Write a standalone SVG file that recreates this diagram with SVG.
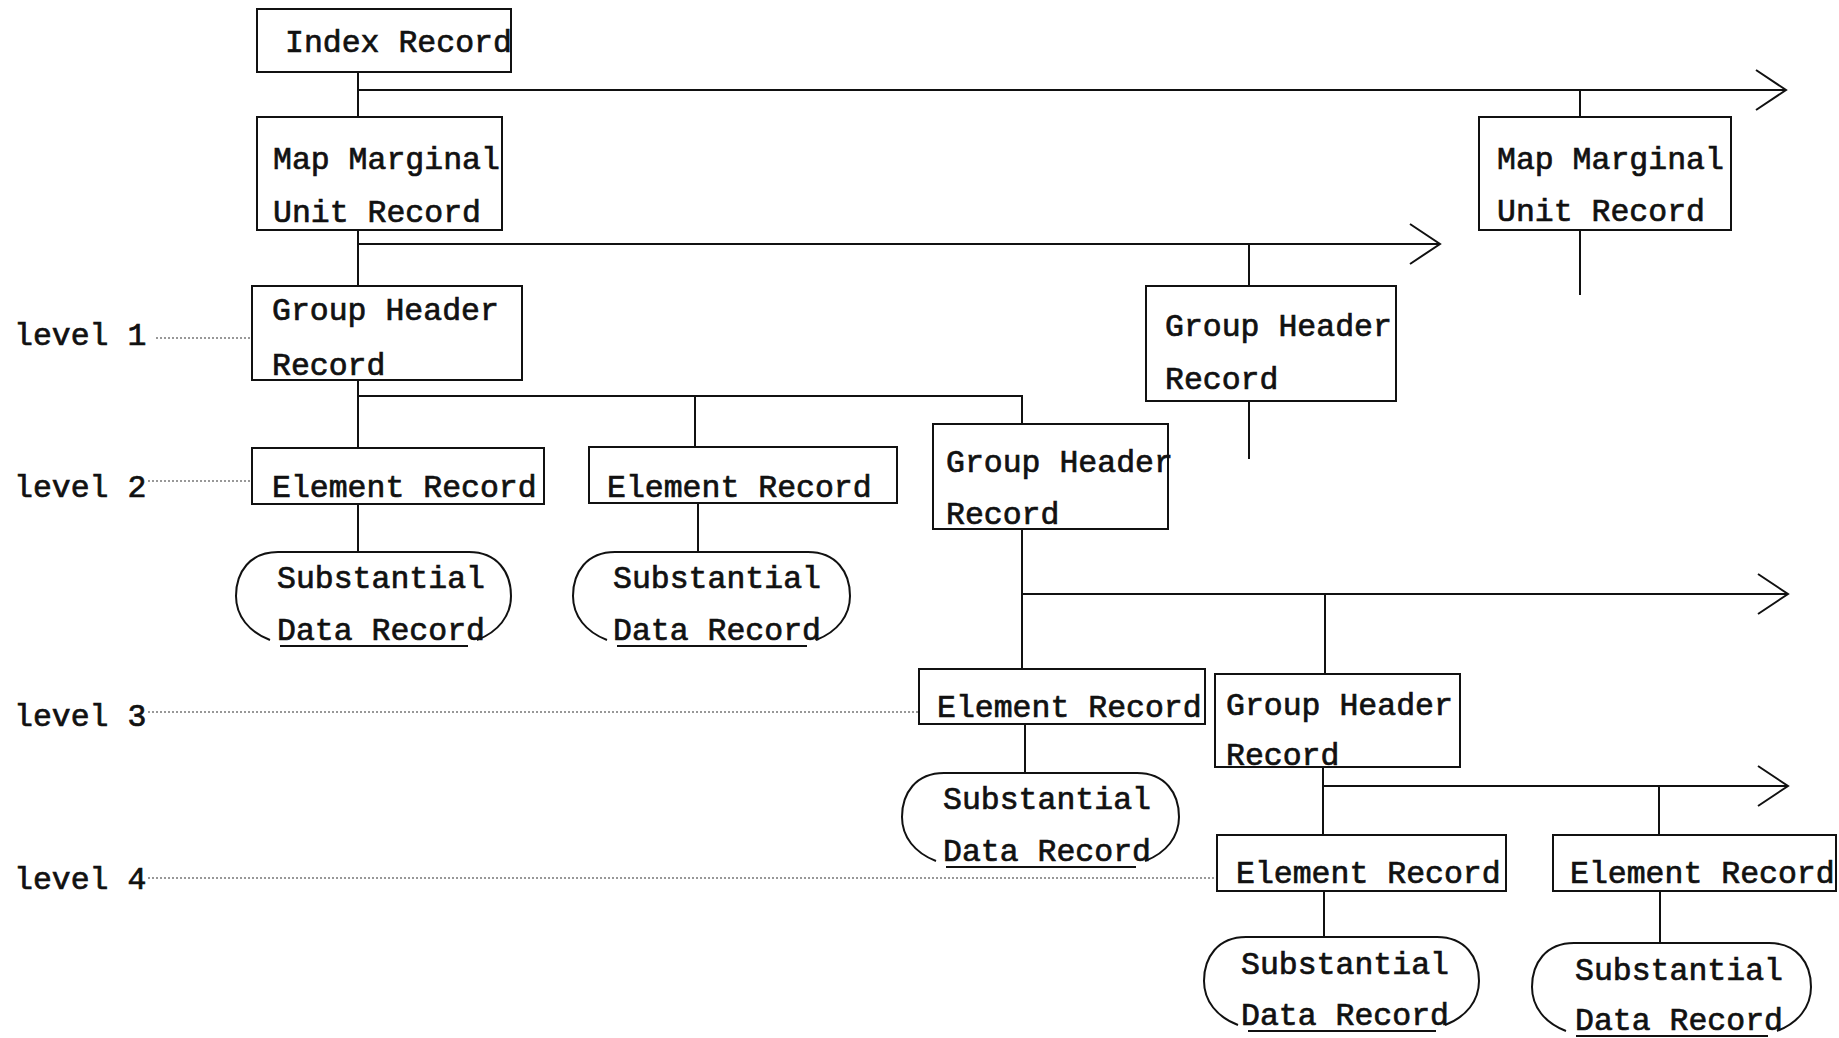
<svg xmlns="http://www.w3.org/2000/svg" width="1839" height="1038" viewBox="0 0 1839 1038">
<defs>
<style>
.box{fill:none;stroke:#111;stroke-width:2}
.sdr{fill:none;stroke:#111;stroke-width:2}
.t{font-family:"Liberation Mono","DejaVu Sans Mono",monospace;font-size:31.5px;fill:#111;stroke:#111;stroke-width:0.7}
.c{fill:none;stroke:#111;stroke-width:2}
.d{fill:none;stroke:#333;stroke-width:1.2;stroke-dasharray:2 2}
</style>
<marker id="chev" markerUnits="userSpaceOnUse" markerWidth="40" markerHeight="46" refX="32" refY="22" orient="auto" viewBox="0 0 40 46">
<path d="M2,2 L32,22 L2,42" fill="none" stroke="#111" stroke-width="2"/>
</marker>
</defs>
<rect width="1839" height="1038" fill="#fff"/>

<g id="connectors">
<path class="c" d="M358,72 V117"/>
<path class="c" d="M358,90 H1786" marker-end="url(#chev)"/>
<path class="c" d="M1580,90 V117"/>
<path class="c" d="M1580,230 V295"/>
<path class="c" d="M358,230 V286"/>
<path class="c" d="M358,244 H1440" marker-end="url(#chev)"/>
<path class="c" d="M1249,244 V286"/>
<path class="c" d="M1249,401 V459"/>
<path class="c" d="M358,380 V448"/>
<path class="c" d="M358,396 H1022 V424"/>
<path class="c" d="M695,396 V447"/>
<path class="c" d="M358,504 V552"/>
<path class="c" d="M698,503 V552"/>
<path class="c" d="M1022,529 V669"/>
<path class="c" d="M1022,594 H1788" marker-end="url(#chev)"/>
<path class="c" d="M1325,594 V674"/>
<path class="c" d="M1025,724 V773"/>
<path class="c" d="M1323,767 V835"/>
<path class="c" d="M1323,786 H1788" marker-end="url(#chev)"/>
<path class="c" d="M1659,786 V835"/>
<path class="c" d="M1324,891 V937"/>
<path class="c" d="M1660,891 V943"/>
<path class="d" d="M156,338 H252"/>
<path class="d" d="M148,481 H252"/>
<path class="d" d="M148,712 H919"/>
<path class="d" d="M148,878 H1217"/>
</g>

<g id="levels">
<text class="t" x="14" y="345">level 1</text>
<text class="t" x="14" y="497">level 2</text>
<text class="t" x="14" y="726">level 3</text>
<text class="t" x="14" y="889">level 4</text>
</g>

<g id="index-record">
<rect class="box" x="257" y="9" width="254" height="63"/>
<text class="t" x="285" y="52">Index Record</text>
</g>

<g id="map-marginal-1">
<rect class="box" x="257" y="117" width="245" height="113"/>
<text class="t" x="273" y="169">Map Marginal</text>
<text class="t" x="273" y="222">Unit Record</text>
</g>

<g id="map-marginal-2">
<rect class="box" x="1479" y="117" width="252" height="113"/>
<text class="t" x="1497" y="169">Map Marginal</text>
<text class="t" x="1497" y="221">Unit Record</text>
</g>

<g id="group-header-1">
<rect class="box" x="252" y="286" width="270" height="94"/>
<text class="t" x="272" y="320">Group Header</text>
<text class="t" x="272" y="375">Record</text>
</g>

<g id="group-header-2">
<rect class="box" x="1146" y="286" width="250" height="115"/>
<text class="t" x="1165" y="336">Group Header</text>
<text class="t" x="1165" y="389">Record</text>
</g>

<g id="element-2a">
<rect class="box" x="252" y="448" width="292" height="56"/>
<text class="t" x="272" y="497">Element Record</text>
</g>

<g id="element-2b">
<rect class="box" x="589" y="447" width="308" height="56"/>
<text class="t" x="607" y="497">Element Record</text>
</g>

<g id="group-header-2c">
<rect class="box" x="933" y="424" width="235" height="105"/>
<text class="t" x="946" y="472">Group Header</text>
<text class="t" x="946" y="524">Record</text>
</g>

<g id="data-2a">
<path class="sdr" d="M278,552 H469 C497,552 511,572 511,596 C511,616 498,632 477,640 M278,552 C250,552 236,572 236,596 C236,616 249,632 270,640 M280,646 H468"/>
<text class="t" x="277" y="588">Substantial</text>
<text class="t" x="277" y="640">Data Record</text>
</g>

<g id="data-2b">
<path class="sdr" d="M615,552 H808 C836,552 850,572 850,596 C850,616 837,632 816,640 M615,552 C587,552 573,572 573,596 C573,616 586,632 607,640 M617,646 H807"/>
<text class="t" x="613" y="588">Substantial</text>
<text class="t" x="613" y="640">Data Record</text>
</g>

<g id="element-3">
<rect class="box" x="919" y="669" width="286" height="55"/>
<text class="t" x="937" y="717">Element Record</text>
</g>

<g id="group-header-3">
<rect class="box" x="1215" y="674" width="245" height="93"/>
<text class="t" x="1226" y="715">Group Header</text>
<text class="t" x="1226" y="765">Record</text>
</g>

<g id="data-3">
<path class="sdr" d="M944,773 H1137 C1165,773 1179,793 1179,817 C1179,837 1166,853 1145,861 M944,773 C916,773 902,793 902,817 C902,837 915,853 936,861 M946,867 H1136"/>
<text class="t" x="943" y="809">Substantial</text>
<text class="t" x="943" y="861">Data Record</text>
</g>

<g id="element-4a">
<rect class="box" x="1217" y="835" width="289" height="56"/>
<text class="t" x="1236" y="883">Element Record</text>
</g>

<g id="element-4b">
<rect class="box" x="1553" y="835" width="283" height="56"/>
<text class="t" x="1570" y="883">Element Record</text>
</g>

<g id="data-4a">
<path class="sdr" d="M1246,937 H1437 C1465,937 1479,957 1479,981 C1479,1001 1466,1017 1445,1025 M1246,937 C1218,937 1204,957 1204,981 C1204,1001 1217,1017 1238,1025 M1248,1031 H1436"/>
<text class="t" x="1241" y="974">Substantial</text>
<text class="t" x="1241" y="1025">Data Record</text>
</g>

<g id="data-4b">
<path class="sdr" d="M1574,943 H1769 C1797,943 1811,963 1811,987 C1811,1007 1798,1023 1777,1031 M1574,943 C1546,943 1532,963 1532,987 C1532,1007 1545,1023 1566,1031 M1576,1036 H1768"/>
<text class="t" x="1575" y="980">Substantial</text>
<text class="t" x="1575" y="1030">Data Record</text>
</g>
</svg>
